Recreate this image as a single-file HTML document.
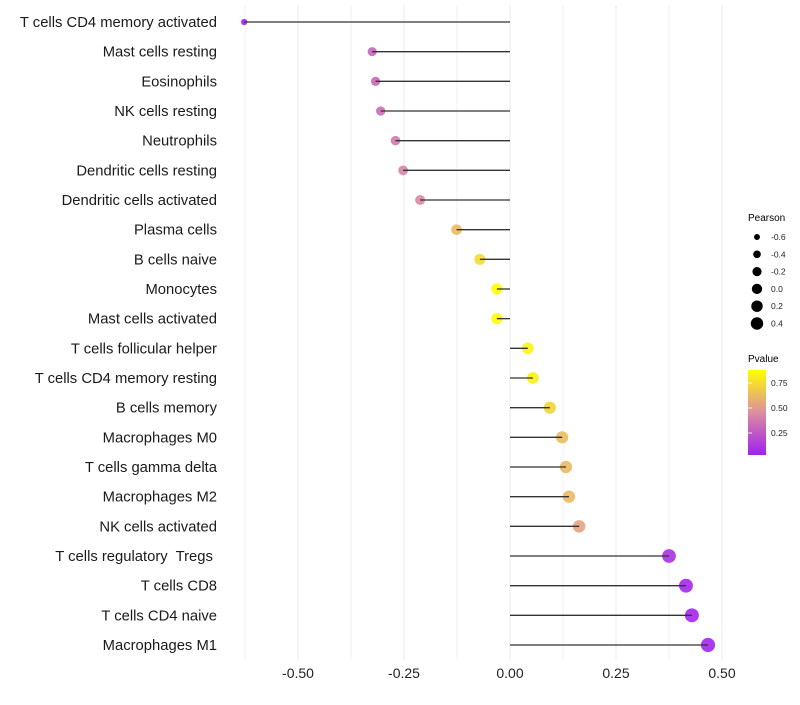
<!DOCTYPE html>
<html><head><meta charset="utf-8"><style>
body{margin:0;background:#fff;font-family:"Liberation Sans",sans-serif}
svg text{font-family:"Liberation Sans",sans-serif;white-space:pre}
</style></head><body>
<svg id="chart" width="800" height="700" xmlns="http://www.w3.org/2000/svg" xml:space="preserve">
<g id="grid"></g>
<g id="marks"></g>
<g id="ylabels"></g>
<g id="xlabels"></g>
<g id="legend">
  <text x="748" y="221" font-size="10">Pearson</text>
  <text x="748" y="362" font-size="10">Pvalue</text>
  <defs><linearGradient id="pg" x1="0" y1="1" x2="0" y2="0">
    <stop offset="0" stop-color="#A020F0"/><stop offset="0.5" stop-color="#DC8E9E"/><stop offset="1" stop-color="#FFFF00"/>
  </linearGradient></defs>
  <rect x="748" y="370" width="18" height="85" fill="url(#pg)"/>
</g>
</svg>
<script>
const categories=["T cells CD4 memory activated","Mast cells resting","Eosinophils","NK cells resting","Neutrophils","Dendritic cells resting","Dendritic cells activated","Plasma cells","B cells naive","Monocytes","Mast cells activated","T cells follicular helper","T cells CD4 memory resting","B cells memory","Macrophages M0","T cells gamma delta","Macrophages M2","NK cells activated","T cells regulatory  Tregs ","T cells CD8","T cells CD4 naive","Macrophages M1"];
const pearson=[-0.627,-0.325,-0.317,-0.305,-0.270,-0.252,-0.212,-0.126,-0.071,-0.031,-0.031,0.042,0.054,0.094,0.123,0.132,0.139,0.163,0.375,0.415,0.429,0.467];
const pvalue=[0.04,0.30,0.30,0.32,0.38,0.42,0.44,0.62,0.75,0.88,0.88,0.84,0.82,0.72,0.63,0.62,0.62,0.54,0.10,0.06,0.05,0.05];
const xTicks=[-0.5,-0.25,0,0.25,0.5];
const xTickLabels=["-0.50","-0.25","0.00","0.25","0.50"];
const xMinor=[-0.625,-0.375,-0.125,0.125,0.375];
const sizeLegend=[-0.6,-0.4,-0.2,0.0,0.2,0.4];
const sizeLegendLabels=["-0.6","-0.4","-0.2","0.0","0.2","0.4"];
const pLegend=[0.25,0.5,0.75];
const pLegendLabels=["0.25","0.50","0.75"];

const NS="http://www.w3.org/2000/svg";
const X=v=>510+v*424;
const Y=i=>22+i*(623/21);
const pmin=0.03,pmax=0.88;
const R=v=>Math.sqrt(Math.max(4,21+37*(v+0.325)));
function hex(h){return [parseInt(h.slice(1,3),16),parseInt(h.slice(3,5),16),parseInt(h.slice(5,7),16)];}
const stops=[hex("#A020F0"),hex("#DC8E9E"),hex("#FFFF00")];
function col(p){let t=Math.min(1,Math.max(0,(p-pmin)/(pmax-pmin)));let a,b,f;
 if(t<0.5){a=stops[0];b=stops[1];f=t/0.5}else{a=stops[1];b=stops[2];f=(t-0.5)/0.5}
 return "rgb("+a.map((c,k)=>Math.round(c+(b[k]-c)*f)).join(",")+")";}
function el(tag,attrs,parent){const e=document.createElementNS(NS,tag);for(const k in attrs)e.setAttribute(k,attrs[k]);parent.appendChild(e);return e;}
const grid=document.getElementById('grid'),marks=document.getElementById('marks'),yl=document.getElementById('ylabels'),xl=document.getElementById('xlabels'),lg=document.getElementById('legend');
xMinor.forEach(v=>{const l=el('line',{x1:X(v),x2:X(v),y1:5,y2:660,stroke:'#f2f2f2','stroke-width':1},grid);

});
xTicks.forEach((v,i)=>{const l=el('line',{x1:X(v),x2:X(v),y1:5,y2:660,stroke:'#ebebeb','stroke-width':1},grid);


const t=el('text',{x:X(v),y:678,'font-size':14,'text-anchor':'middle',fill:'#222'},xl);t.textContent=xTickLabels[i];

});
categories.forEach((c,i)=>{const y=Y(i);
const t=el('text',{x:217,y:y+5,'font-size':14.8,'text-anchor':'end',fill:'#1a1a1a'},yl);t.textContent=c;


const p=el('circle',{cx:X(pearson[i]),cy:y,r:R(pearson[i]),fill:col(pvalue[i]),'fill-opacity':0.9},marks);


const l=el('line',{x1:X(0),x2:X(pearson[i]),y1:y,y2:y,stroke:'#333','stroke-width':1.3},marks);

});
sizeLegend.forEach((v,i)=>{const y=237+i*17.3;
const c=el('circle',{cx:757,cy:y,r:R(v)*0.9,fill:'#000'},lg);


const t=el('text',{x:771,y:y+3,'font-size':8.5,fill:'#222'},lg);t.textContent=sizeLegendLabels[i];

});
pLegend.forEach((v,i)=>{const y=455-(v-pmin)/(pmax-pmin)*85;
const k=el('line',{x1:748,x2:752,y1:y,y2:y,stroke:'#fff','stroke-width':0.8},lg);


const t=el('text',{x:771,y:y+3,'font-size':8.5,fill:'#222'},lg);t.textContent=pLegendLabels[i];

});
</script>
</body></html>
